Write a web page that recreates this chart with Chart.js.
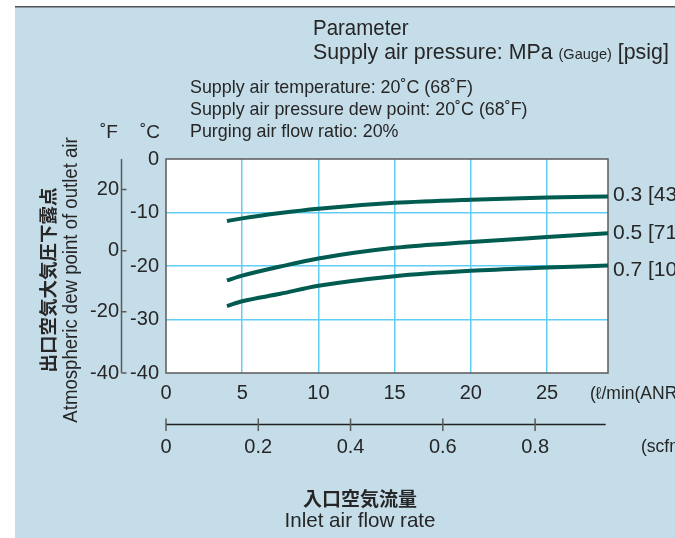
<!DOCTYPE html>
<html>
<head>
<meta charset="utf-8">
<script src="https://cdn.jsdelivr.net/npm/chart.js@4/dist/chart.umd.min.js"></script>
<style>
  html, body { margin: 0; padding: 0; background: #ffffff; }
  canvas { display: block; }
</style>
</head>
<body>
<canvas id="c" width="675" height="538"></canvas>
<script>
// Inlet air flow rate (ℓ/min ANR) at which the dew point was read
const flowRate = [4, 5, 7.5, 10, 15, 20, 25, 29];
// Outlet dew point (°C) per supply pressure
const dew03 = [-11.6, -11.1, -10.1, -9.3, -8.2, -7.6, -7.2, -7.0];
const dew05 = [-22.7, -21.8, -20.1, -18.6, -16.6, -15.5, -14.6, -13.9];
const dew07 = [-27.5, -26.6, -25.2, -23.7, -21.9, -20.9, -20.3, -19.9];
const pressureLabels = ['0.3 [43]', '0.5 [71]', '0.7 [102]'];

// Tick values
const flowTicks = [0, 5, 10, 15, 20, 25];
const scfmTicks = [0, 0.2, 0.4, 0.6, 0.8];
const celsiusTicks = [0, -10, -20, -30, -40];
const fahrenheitTicks = [20, 0, -20, -40];

// Text blocks
const headerLines = ['Parameter', 'Supply air pressure: MPa ', '(Gauge)', ' [psig]'];
const conditionLines = [
  'Supply air temperature: 20˚C (68˚F)',
  'Supply air pressure dew point: 20˚C (68˚F)',
  'Purging air flow ratio: 20%'
];
const yTitleJa = '出口空気大気圧下露点';
const yTitleEn = 'Atmospheric dew point of outlet air';
const xTitleJa = '入口空気流量';
const xTitleEn = 'Inlet air flow rate';
const flowUnit = '(ℓ/min(ANR))';
const scfmUnit = '(scfm)';

const SANS = "'Liberation Sans', Arial, sans-serif";
const CJK = "'Noto Sans CJK JP', 'Noto Sans CJK SC', sans-serif";
const PANEL = '#c5dde9';
const GRID = '#62cdf4';
const CURVE = '#005b50';
const TEXT = '#262626';
const AXIS = '#5a5a5a';

const pairs = ys => flowRate.map((x, i) => ({ x, y: ys[i] }));

// Draws text squeezed horizontally (condensed face); returns drawn width
function condensed(ctx, text, x, y, font, sx, angle) {
  ctx.save();
  ctx.font = font;
  ctx.translate(x, y);
  if (angle) ctx.rotate(angle);
  ctx.scale(sx, 1);
  ctx.fillText(text, 0, 0);
  const w = ctx.measureText(text).width * sx;
  ctx.restore();
  return w;
}

const decor = {
  id: 'decor',
  beforeDraw(chart) {
    const { ctx, chartArea: a } = chart;
    ctx.save();
    ctx.fillStyle = '#ffffff';
    ctx.fillRect(0, 0, chart.width, chart.height);
    ctx.fillStyle = PANEL;
    ctx.fillRect(15, 7, chart.width - 15, chart.height - 7);
    ctx.fillStyle = '#555555';
    ctx.fillRect(15, 6, chart.width - 15, 1.5);
    ctx.fillStyle = '#ffffff';
    ctx.fillRect(a.left, a.top, a.right - a.left, a.bottom - a.top);
    ctx.restore();
  },
  beforeDatasetsDraw(chart) {
    const { ctx, chartArea: a } = chart;
    ctx.save();
    ctx.strokeStyle = AXIS;
    ctx.lineWidth = 1.5;
    ctx.strokeRect(a.left, a.top, a.right - a.left, a.bottom - a.top);
    ctx.restore();
  },
  afterDraw(chart) {
    const { ctx, chartArea: a, scales } = chart;
    ctx.save();
    ctx.fillStyle = TEXT;
    ctx.textBaseline = 'middle';
    ctx.textAlign = 'left';

    // Header
    condensed(ctx, headerLines[0], 313, 29, '22px ' + SANS, 0.93);
    let x = 313;
    x += condensed(ctx, headerLines[1], x, 53, '22px ' + SANS, 0.97);
    x += condensed(ctx, headerLines[2], x, 55, '15px ' + SANS, 0.97);
    condensed(ctx, headerLines[3], x, 53, '22px ' + SANS, 0.97);

    // Test conditions
    conditionLines.forEach((t, i) => condensed(ctx, t, 190, 88 + i * 22, '19px ' + SANS, 0.94));

    // Unit headers over the two temperature axes
    ctx.font = '19px ' + SANS;
    ctx.fillText('˚F', 100, 133);
    ctx.fillText('˚C', 140, 133);

    // Fahrenheit axis line with inward ticks
    const yF = scales.yF;
    const fx = yF.right - 0.5;
    ctx.strokeStyle = AXIS;
    ctx.lineWidth = 1.5;
    ctx.beginPath();
    ctx.moveTo(fx, a.top);
    ctx.lineTo(fx, a.bottom);
    fahrenheitTicks.forEach(v => {
      const py = yF.getPixelForValue(v);
      ctx.moveTo(fx, py);
      ctx.lineTo(fx + 5, py);
    });
    ctx.stroke();

    // scfm axis line with crossing ticks
    const x2 = scales.x2;
    const ly = x2.top + 6.5;
    ctx.strokeStyle = '#222222';
    ctx.lineWidth = 1.3;
    ctx.beginPath();
    ctx.moveTo(x2.getPixelForValue(0), ly);
    ctx.lineTo(x2.getPixelForValue(0.953), ly);
    ctx.stroke();
    ctx.strokeStyle = AXIS;
    ctx.lineWidth = 1.5;
    ctx.beginPath();
    scfmTicks.forEach(v => {
      const px = x2.getPixelForValue(v);
      ctx.moveTo(px, ly - 6);
      ctx.lineTo(px, ly + 6.5);
    });
    ctx.stroke();

    // Units to the right of each x axis
    ctx.font = '17.5px ' + SANS;
    ctx.fillText(flowUnit, 590, 394);
    ctx.fillText(scfmUnit, 641, 447);

    // Pressure labels at the right end of each curve
    const yC = scales.y;
    const ends = [dew03, dew05, dew07].map(s => s[s.length - 1]);
    const nudges = [-1.5, 0, 4.5];
    ctx.font = '21px ' + SANS;
    pressureLabels.forEach((t, i) => {
      ctx.fillText(t, 613, yC.getPixelForValue(ends[i]) + nudges[i]);
    });

    // x axis titles
    ctx.textAlign = 'center';
    ctx.font = 'bold 19px ' + CJK;
    ctx.fillText(xTitleJa, 360, 499);
    condensed(ctx, xTitleEn, 360, 521, '21px ' + SANS, 0.98);

    // y axis titles (rotated)
    ctx.save();
    ctx.translate(48, 280);
    ctx.rotate(-Math.PI / 2);
    ctx.font = 'bold 18.5px ' + CJK;
    ctx.fillText(yTitleJa, 0, 0);
    ctx.restore();
    condensed(ctx, yTitleEn, 71, 280, '20px ' + SANS, 0.93, -Math.PI / 2);

    ctx.restore();
  }
};

const lineStyle = {
  borderColor: CURVE,
  borderWidth: 4,
  pointRadius: 0,
  fill: false,
  cubicInterpolationMode: 'monotone',
  borderCapStyle: 'butt'
};

const tickFont = { family: SANS, size: 20 };
const keep = list => scale => {
  scale.ticks = list.map(v => ({ value: v }));
};

new Chart(document.getElementById('c'), {
  type: 'line',
  data: {
    datasets: [
      Object.assign({ label: pressureLabels[0], data: pairs(dew03) }, lineStyle),
      Object.assign({ label: pressureLabels[1], data: pairs(dew05) }, lineStyle),
      Object.assign({ label: pressureLabels[2], data: pairs(dew07) }, lineStyle)
    ]
  },
  options: {
    responsive: false,
    animation: false,
    devicePixelRatio: 1,
    layout: { padding: { top: 159, right: 67, left: 82, bottom: 80 } },
    plugins: { legend: { display: false }, tooltip: { enabled: false } },
    scales: {
      x: {
        type: 'linear',
        position: 'bottom',
        min: 0,
        max: 29,
        afterBuildTicks: keep(flowTicks),
        afterFit: s => { s.height = 45; },
        border: { display: false },
        grid: {
          drawTicks: false,
          lineWidth: 1.5,
          color: c => (c.tick && c.tick.value === 0) ? 'rgba(0,0,0,0)' : GRID
        },
        ticks: { padding: 8, color: TEXT, font: tickFont, maxRotation: 0 }
      },
      x2: {
        type: 'linear',
        position: 'bottom',
        min: 0,
        max: 0.958,
        afterBuildTicks: keep(scfmTicks),
        afterFit: s => { s.height = 40; },
        border: { display: false },
        grid: { display: false, drawTicks: false },
        ticks: { padding: 17, color: TEXT, font: tickFont, maxRotation: 0 }
      },
      y: {
        type: 'linear',
        position: 'left',
        min: -40,
        max: 0,
        afterBuildTicks: keep(celsiusTicks),
        afterFit: s => { s.width = 44; },
        border: { display: false },
        grid: {
          drawTicks: false,
          lineWidth: 1.5,
          color: c => (c.tick && (c.tick.value === 0 || c.tick.value === -40)) ? 'rgba(0,0,0,0)' : GRID
        },
        ticks: { padding: 7, color: TEXT, font: tickFont }
      },
      yF: {
        type: 'linear',
        position: 'left',
        min: -40,
        max: 30,
        afterBuildTicks: keep(fahrenheitTicks),
        afterFit: s => { s.width = 40; },
        border: { display: false },
        grid: { display: false, drawTicks: false },
        ticks: { padding: 3, color: TEXT, font: tickFont }
      }
    }
  },
  plugins: [decor]
});
</script>
</body>
</html>
